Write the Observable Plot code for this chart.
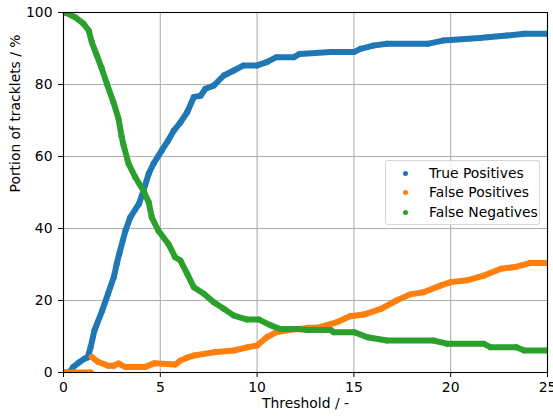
<!DOCTYPE html>
<html><head><meta charset="utf-8">
<script src="https://cdn.jsdelivr.net/npm/d3@7"></script>
<script src="https://cdn.jsdelivr.net/npm/@observablehq/plot@0.6"></script>
<style>
body{margin:0;background:#fff;}
#wrap{position:relative;width:553px;height:418px;font-family:"DejaVu Sans",sans-serif;}
#legend{position:absolute;left:385px;top:160px;width:155px;height:65px;border:1px solid #d5d5d5;border-radius:3px;background:rgba(255,255,255,0.8);box-sizing:border-box;}
.row{position:absolute;left:0;height:0;width:155px;}
.row .m{position:absolute;left:17px;top:-2.5px;width:5px;height:5px;border-radius:50%;}
.row .t{position:absolute;left:43px;top:-9px;font-size:13.9px;line-height:18px;color:#000;white-space:nowrap;}
</style>
</head><body>
<div id="wrap"><div id="chart"></div>
<div id="legend"></div>
</div>
<script>
const xTicks = [0, 5, 10, 15, 20, 25];
const yTicks = [0, 20, 40, 60, 80, 100];
const seriesNames = ["True Positives", "False Positives", "False Negatives"];
const seriesColors = ["#1f77b4", "#ff7f0e", "#2ca02c"];

const tpX = [0, 0.3, 0.5, 0.8, 1.1, 1.25, 1.4, 1.6, 2.0, 2.3, 2.6, 2.75, 2.9, 3.2, 3.45, 3.9, 4.13, 4.4, 4.65, 5.08, 5.4, 5.7, 6.04, 6.39, 6.73, 7.08, 7.33, 7.76, 8.28, 8.8, 9.3, 10.0, 10.5, 11.0, 11.9, 12.2, 13.8, 15.0, 15.34, 16.0, 16.7, 18.8, 19.6, 21.5, 21.9, 22.9, 23.8, 25];
const tpY = [0, 0, 1.5, 2.8, 3.9, 4.2, 7, 11.7, 17.2, 21.9, 26.5, 30.2, 33.4, 39.4, 43.1, 46.9, 50.5, 55.2, 58, 61.7, 64.4, 67.2, 69.5, 72.3, 76.5, 76.9, 78.8, 79.7, 82.5, 83.9, 85.3, 85.3, 86.2, 87.6, 87.6, 88.5, 89, 89, 89.9, 90.8, 91.3, 91.3, 92.2, 92.9, 93.1, 93.6, 94.1, 94.1];

const fpX = [0, 1.4, 1.46, 1.8, 2.3, 2.6, 2.84, 3.2, 4.2, 4.7, 5.77, 6.04, 6.37, 6.73, 7.76, 8.8, 9.49, 10.0, 10.5, 11.0, 11.55, 12.6, 13.1, 14.14, 14.8, 15.5, 16.4, 17.2, 17.9, 18.6, 19.5, 20.0, 20.85, 21.7, 22.6, 23.4, 24.1, 25];
const fpY = [0, 0, 4.3, 2.9, 1.9, 1.9, 2.5, 1.5, 1.5, 2.6, 2.2, 3.3, 4.1, 4.7, 5.6, 6.1, 7.0, 7.5, 9.8, 11.2, 11.7, 12.4, 12.4, 14.0, 15.6, 16.1, 17.7, 20, 21.7, 22.3, 24.2, 25.1, 25.6, 26.9, 28.8, 29.4, 30.4, 30.4];
const fpSegment = [0, 0, 1, 1, 1, 1, 1, 1, 1, 1, 1, 1, 1, 1, 1, 1, 1, 1, 1, 1, 1, 1, 1, 1, 1, 1, 1, 1, 1, 1, 1, 1, 1, 1, 1, 1, 1, 1];

const fnX = [0, 0.1, 0.6, 1.03, 1.3, 1.46, 1.72, 1.98, 2.24, 2.58, 2.84, 3.0, 3.1, 3.36, 3.7, 4.13, 4.4, 4.56, 4.9, 5.42, 5.77, 6.04, 6.39, 6.73, 7.25, 7.76, 8.28, 8.8, 9.49, 10.1, 10.7, 11.2, 12.07, 12.6, 13.8, 13.96, 15.0, 15.7, 16.7, 19.1, 19.8, 21.7, 22.06, 23.4, 23.8, 25];
const fnY = [100, 100, 98.7, 96.9, 95, 91.8, 88.1, 84.4, 80.2, 75.1, 70.5, 65.6, 63.2, 58, 54.3, 50.5, 47.3, 43.1, 39.4, 35.7, 32, 31.1, 27.4, 23.7, 21.9, 19.5, 17.7, 15.8, 14.7, 14.7, 13.1, 12.1, 12.1, 11.8, 11.8, 11.2, 11.2, 9.8, 8.9, 8.9, 8.0, 8.0, 7.0, 7.0, 6.1, 6.1];

const tp = tpX.map((x, i) => ({x, y: tpY[i], seg: 0}));
const fp = fpX.map((x, i) => ({x, y: fpY[i], seg: fpSegment[i]}));
const fn = fnX.map((x, i) => ({x, y: fnY[i], seg: 0}));
const all = [tp, fp, fn];

const marks = [
  Plot.ruleX(xTicks, {stroke: "#b0b0b0", strokeWidth: 1.1}),
  Plot.ruleY(yTicks, {stroke: "#b0b0b0", strokeWidth: 1.1})
];
all.forEach((data, k) => {
  marks.push(Plot.line(data, {x: "x", y: "y", z: "seg", stroke: seriesColors[k], strokeWidth: 6, strokeLinejoin: "round", strokeLinecap: "round", clip: true}));
  marks.push(Plot.dot(data, {x: "x", y: "y", r: 3, fill: seriesColors[k], clip: true}));
});
marks.push(
  Plot.frame({stroke: "#000", strokeWidth: 1.1}),
  Plot.axisX(xTicks, {tickSize: 5, tickPadding: 5, label: null, stroke: "#000"}),
  Plot.axisY(yTicks, {tickSize: 5, tickPadding: 6, label: null, stroke: "#000"}),
  Plot.text(["Threshold / -"], {frameAnchor: "bottom", dy: 35, fontSize: 13.9, fill: "#000"}),
  Plot.text(["Portion of tracklets / %"], {frameAnchor: "left", dx: -48, rotate: -90, fontSize: 13.9, fill: "#000"})
);

const chart = Plot.plot({
  width: 553, height: 418,
  marginLeft: 63, marginRight: 6, marginTop: 12, marginBottom: 46,
  style: {fontFamily: "DejaVu Sans", fontSize: "13.9px", color: "#000", background: "#fff"},
  x: {domain: [0, 25]},
  y: {domain: [0, 100]},
  marks
});
document.getElementById("chart").appendChild(chart);

const legend = document.getElementById("legend");
const rowTops = [12, 31, 51];
seriesNames.forEach((name, k) => {
  const row = document.createElement("div");
  row.className = "row";
  row.style.top = rowTops[k] + "px";
  row.innerHTML = `<div class="m" style="background:${seriesColors[k]}"></div><div class="t">${name}</div>`;
  legend.appendChild(row);
});
</script>
</body></html>
